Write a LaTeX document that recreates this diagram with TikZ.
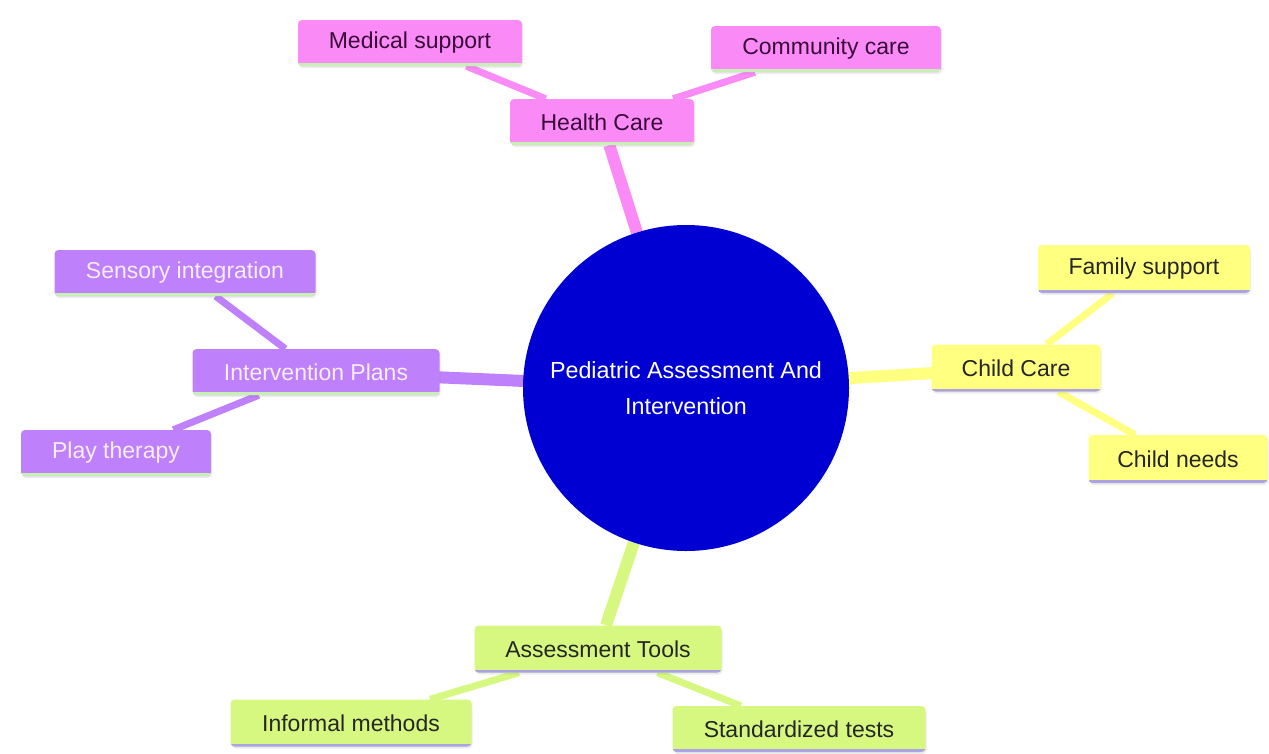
\documentclass[tikz,border=0pt]{standalone}
\usepackage{fontspec}
\setmainfont{Liberation Sans}
\usetikzlibrary{backgrounds,shadows}
\definecolor{pinkc}{HTML}{F98AF6}
\definecolor{purpc}{HTML}{BF80FB}
\definecolor{yelc}{HTML}{FFFF80}
\definecolor{grnc}{HTML}{D6F880}
\definecolor{bluec}{HTML}{0000D2}
\definecolor{pinktxt}{HTML}{3A0A3A}
\definecolor{purptxt}{HTML}{F6EEFF}
\definecolor{ulgreen}{HTML}{C8F0B4}
\definecolor{ulpurple}{HTML}{ABA3E6}
\tikzset{
  x=1pt, y=-1pt,
  box/.style={rounded corners=4pt, inner sep=0pt, font=\fontsize{23}{27}\selectfont,
    drop shadow={opacity=0.15, shadow xshift=1pt, shadow yshift=-2pt}},
  ul/.style={path picture={\draw[line width=6pt,#1] (path picture bounding box.south west) -- (path picture bounding box.south east);}},
  pinkbox/.style={box, fill=pinkc, text=pinktxt, ul=ulgreen},
  purpbox/.style={box, fill=purpc, text=purptxt, ul=ulgreen},
  yelbox/.style={box, fill=yelc, text=black!85, ul=ulpurple},
  grnbox/.style={box, fill=grnc, text=black!85, ul=ulpurple},
  mainedge/.style={line width=12pt},
  subedge/.style={line width=7pt},
}
\begin{document}
\begin{tikzpicture}
\useasboundingbox (0,0) rectangle (1269,753);
% central
\node[circle, fill=bluec, minimum size=326pt, text=white, align=center,
  font=\fontsize{23.3}{36}\selectfont] (c) at (686,388) {Pediatric Assessment And\\Intervention};
% Health care branch
\node[pinkbox, minimum width=184pt, minimum height=46pt] (hc) at (602,122) {Health Care};
\node[pinkbox, minimum width=224pt, minimum height=46pt] (ms) at (410,43) {Medical support};
\node[pinkbox, minimum width=230pt, minimum height=46pt] (cc) at (826,49) {Community care};
% Child care branch
\node[yelbox, minimum width=169pt, minimum height=47pt] (ch) at (1016,368) {Child Care};
\node[yelbox, minimum width=212pt, minimum height=48pt] (fs) at (1144,269) {Family support};
\node[yelbox, minimum width=179pt, minimum height=48pt] (cn) at (1178,459) {Child needs};
% Intervention branch
\node[purpbox, minimum width=247pt, minimum height=46pt] (ip) at (316,372) {Intervention Plans};
\node[purpbox, minimum width=261pt, minimum height=46pt] (si) at (185,273) {Sensory integration};
\node[purpbox, minimum width=190pt, minimum height=46pt] (pt) at (116,453) {Play therapy};
% Assessment branch
\node[grnbox, minimum width=247pt, minimum height=47pt] (at) at (598,649) {Assessment Tools};
\node[grnbox, minimum width=241pt, minimum height=47pt] (im) at (351,723) {Informal methods};
\node[grnbox, minimum width=253pt, minimum height=46pt] (st) at (799,729) {Standardized tests};
\begin{scope}[on background layer]
  \draw[mainedge, pinkc] (c) -- (hc);
  \draw[subedge, pinkc] (hc) -- (ms);
  \draw[subedge, pinkc] (hc) -- (cc);
  \draw[mainedge, yelc] (c.center) -- (ch.center);
  \draw[subedge, yelc] (ch) -- (fs);
  \draw[subedge, yelc] (ch) -- (cn);
  \draw[mainedge, purpc] (c.center) -- (ip.center);
  \draw[subedge, purpc] (ip) -- (si);
  \draw[subedge, purpc] (ip) -- (pt);
  \draw[mainedge, grnc] (c) -- (at);
  \draw[subedge, grnc] (at) -- (im);
  \draw[subedge, grnc] (at) -- (st);
\end{scope}
\end{tikzpicture}
\end{document}
